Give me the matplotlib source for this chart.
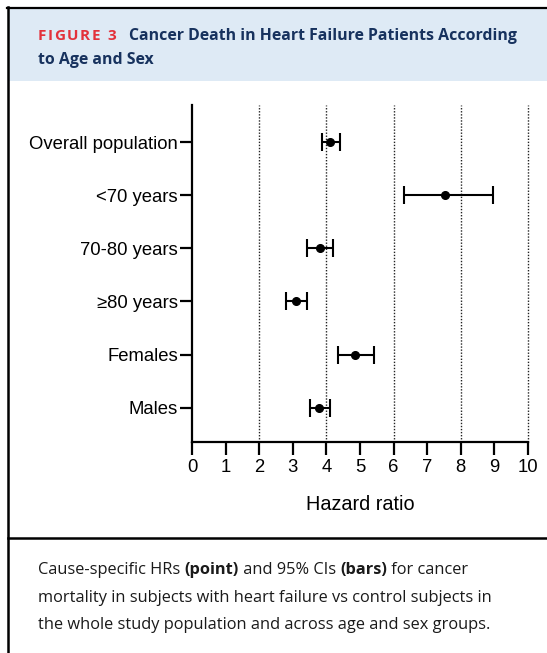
import matplotlib
matplotlib.use("Agg")
import matplotlib.pyplot as plt
import matplotlib.patches as patches
from matplotlib.lines import Line2D

# Data
groups = ["Overall population", "<70 years", "70-80 years", "\u226580 years", "Females", "Males"]
hr = [4.11, 7.53, 3.80, 3.10, 4.85, 3.78]
ci_low = [3.86, 6.32, 3.43, 2.80, 4.35, 3.50]
ci_high = [4.39, 8.97, 4.19, 3.43, 5.43, 4.11]
x_ticks = list(range(0, 11))
grid_at = [2, 4, 6, 8, 10]

W, H = 547, 653
fig = plt.figure(figsize=(W / 100, H / 100), dpi=100)
fig.patch.set_facecolor("white")
renderer = fig.canvas.get_renderer()


def fx(px):
    return px / W


def fy(py):
    return 1 - py / H


def run_text(x, y, pieces, extra=0.0, **kw):
    # draw text pieces one after another on one baseline, x in pixels
    for txt, wt in pieces:
        t = fig.text(fx(x), fy(y), txt, fontweight=wt, va="baseline", **kw)
        x += t.get_window_extent(renderer=renderer).width + extra
    return x


# Frame: header band, borders, separator
fig.add_artist(patches.Rectangle((fx(9), fy(81)), fx(W - 9), fy(9) - fy(81),
                                 transform=fig.transFigure, facecolor="#deeaf5", edgecolor="none"))
fig.add_artist(Line2D([fx(7), 1], [fy(7.5), fy(7.5)], transform=fig.transFigure, color="black", lw=1.6))
fig.add_artist(Line2D([fx(8), fx(8)], [fy(7), 0], transform=fig.transFigure, color="black", lw=1.8))
fig.add_artist(Line2D([fx(8), 1], [fy(537.5), fy(537.5)], transform=fig.transFigure, color="black", lw=1.8))

# Header title
run_text(38, 40, [(c, "bold") for c in "FIGURE 3"], extra=1.5,
         color="#e3313b", fontsize=11, family="Open Sans")
fig.text(fx(129), fy(40), "Cancer Death in Heart Failure Patients According", color="#17325e",
         fontsize=11.45, fontweight="bold", family="Open Sans", va="baseline")
fig.text(fx(38), fy(64), "to Age and Sex", color="#17325e",
         fontsize=11.45, fontweight="bold", family="Open Sans", va="baseline")

# Forest plot
ax = fig.add_axes([fx(192), fy(442), fx(528) - fx(192), fy(105) - fy(442)])
ypos = list(range(len(groups)))
for g in grid_at:
    ax.axvline(g, color="#222222", lw=1.0, ls=(0, (1, 1.2)), zorder=1, clip_on=False)
xerr = [[h - l for h, l in zip(hr, ci_low)], [u - h for h, u in zip(hr, ci_high)]]
ax.errorbar(hr, ypos, xerr=xerr, fmt="o", color="black", ms=5.5, lw=1.5,
            capsize=6.5, capthick=1.5, zorder=3)
ax.set_xlim(0, 10)
ax.set_ylim(5.646, -0.70)
ax.set_yticks(ypos)
ax.set_yticklabels(groups)
ax.set_xticks(x_ticks)
for s in ["top", "right"]:
    ax.spines[s].set_visible(False)
for s in ["left", "bottom"]:
    ax.spines[s].set_linewidth(1.6)
ax.tick_params(axis="both", width=1.6, length=9, labelsize=13.3, pad=1)
ax.tick_params(axis="x", pad=3)
for lbl in ax.get_xticklabels() + ax.get_yticklabels():
    lbl.set_family("Liberation Sans")
ax.set_xlabel("Hazard ratio", fontsize=14.3, family="Liberation Sans", labelpad=14)

# Caption with mixed bold runs
cap_lines = [
    [("Cause-specific HRs ", "normal"), ("(point)", "bold"), (" and 95% CIs ", "normal"),
     ("(bars)", "bold"), (" for cancer", "normal")],
    [("mortality in subjects with heart failure vs control subjects in", "normal")],
    [("the whole study population and across age and sex groups.", "normal")],
]
for i, line in enumerate(cap_lines):
    run_text(38, 574 + i * 27.5, line, fontsize=11.8, family="Open Sans", color="#1a1a1a")

fig.savefig("out.png", dpi=100)
